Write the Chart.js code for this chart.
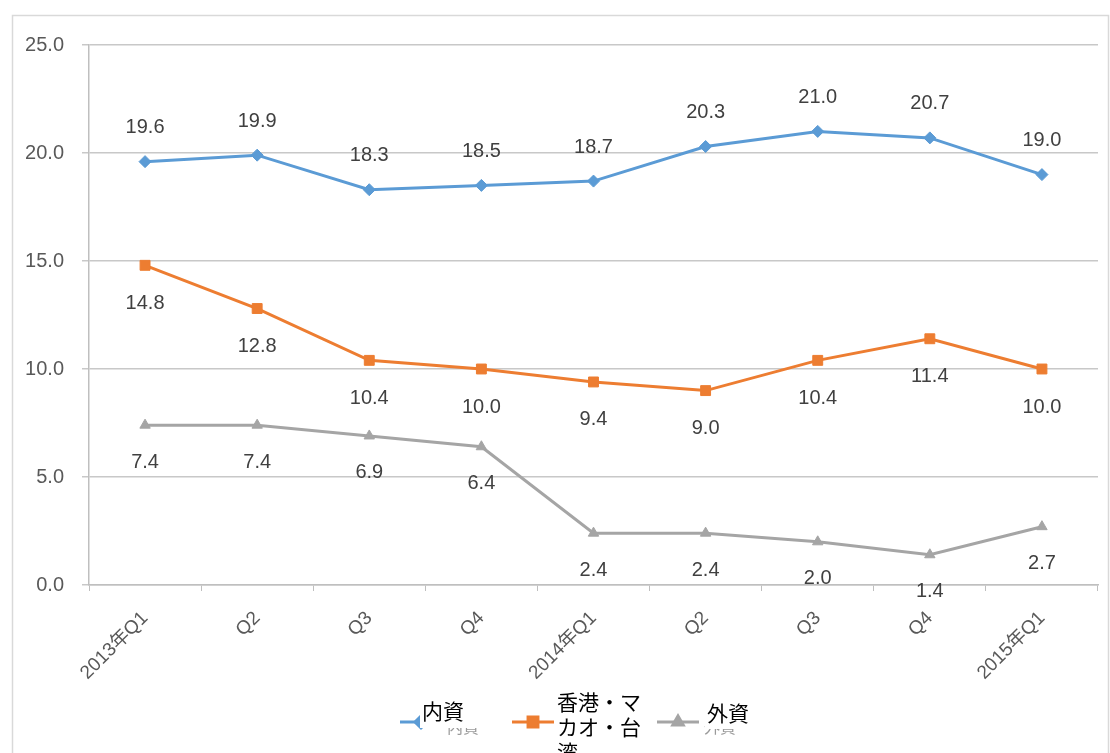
<!DOCTYPE html>
<html>
<head>
<meta charset="utf-8">
<script src="https://cdn.jsdelivr.net/npm/chart.js@4/dist/chart.umd.min.js"></script>
<style>
  html, body { margin: 0; padding: 0; background: #ffffff; }
  #wrap { width: 1110px; height: 753px; position: relative; }
</style>
</head>
<body>
<div id="wrap"><canvas id="c" width="1110" height="753"></canvas></div>
<script>
// Quarterly shares by capital type (%)
const categories = ['2013年Q1', 'Q2', 'Q3', 'Q4', '2014年Q1', 'Q2', 'Q3', 'Q4', '2015年Q1'];
const seriesNames = ['内資', '香港・マカオ・台湾', '外資'];
const domestic = [19.6, 19.9, 18.3, 18.5, 18.7, 20.3, 21.0, 20.7, 19.0];
const hkMacauTaiwan = [14.8, 12.8, 10.4, 10.0, 9.4, 9.0, 10.4, 11.4, 10.0];
const foreign = [7.4, 7.4, 6.9, 6.4, 2.4, 2.4, 2.0, 1.4, 2.7];
const yMin = 0, yMax = 25, yStep = 5;

const BLUE = '#5b9bd5', ORANGE = '#ed7d31', GRAY = '#a5a5a5';
const NUM_FONT = '"Liberation Sans", "Noto Sans CJK JP", sans-serif';
const CJK_FONT = '"Noto Sans CJK JP", sans-serif';

// outer frame of the chart object
const framePlugin = {
  id: 'frame',
  beforeDraw(chart) {
    const ctx = chart.ctx;
    ctx.save();
    ctx.fillStyle = '#ffffff';
    ctx.fillRect(0, 0, chart.width, chart.height);
    ctx.strokeStyle = '#d9d9d9';
    ctx.lineWidth = 1.5;
    ctx.strokeRect(12.5, 15.5, 1096, 760);
    ctx.restore();
  }
};

// value labels next to each point
const valueLabels = {
  id: 'valueLabels',
  afterDatasetsDraw(chart) {
    const ctx = chart.ctx;
    ctx.save();
    ctx.font = '20px ' + NUM_FONT;
    ctx.fillStyle = '#404040';
    ctx.textAlign = 'center';
    ctx.textBaseline = 'middle';
    chart.data.datasets.forEach((ds, di) => {
      const meta = chart.getDatasetMeta(di);
      const dy = ds.labelOffset;
      meta.data.forEach((pt, i) => {
        ctx.fillText(ds.data[i].toFixed(1), pt.x, pt.y + dy);
      });
    });
    ctx.restore();
  }
};

// legend row at the bottom: line + marker, with caption boxes
const bottomLegend = {
  id: 'bottomLegend',
  afterDraw(chart, args, opts) {
    const ctx = chart.ctx;
    ctx.save();
    chart.data.datasets.forEach((ds, di) => {
      const it = opts.items[di];
      // sample line
      ctx.strokeStyle = ds.borderColor;
      ctx.lineWidth = 3;
      ctx.beginPath();
      ctx.moveTo(it.x, opts.y);
      ctx.lineTo(it.x + 42, opts.y);
      ctx.stroke();
      Chart.helpers.drawPoint(ctx, {
        pointStyle: ds.pointStyle,
        radius: ds.pointRadius,
        borderWidth: 1
      }, it.x + 21, opts.y);
      ctx.fillStyle = ds.pointBackgroundColor;
      ctx.strokeStyle = ds.pointBorderColor;
      ctx.fill();
      // small grey caption underneath
      ctx.font = '16px ' + CJK_FONT;
      ctx.fillStyle = '#9a9a9a';
      ctx.textAlign = 'left';
      ctx.textBaseline = 'middle';
      ctx.fillText(ds.label.slice(0, 2), it.x + 47, opts.y + 5);
      // white caption box with black text
      ctx.fillStyle = '#ffffff';
      ctx.fillRect(it.box[0], it.box[1], it.box[2], it.box[3]);
      ctx.font = '21px ' + CJK_FONT;
      ctx.fillStyle = '#000000';
      it.lines.forEach((ln, li) => {
        ctx.fillText(ln, it.box[0] + 2, it.textY + li * 25);
      });
    });
    ctx.restore();
  }
};

const datasets = [
  { label: seriesNames[0], data: domestic, borderColor: BLUE, backgroundColor: BLUE,
    pointStyle: 'rectRot', pointRadius: 6, pointBackgroundColor: BLUE, pointBorderColor: BLUE,
    labelOffset: -34 },
  { label: seriesNames[1], data: hkMacauTaiwan, borderColor: ORANGE, backgroundColor: ORANGE,
    pointStyle: 'rect', pointRadius: 7, pointBackgroundColor: ORANGE, pointBorderColor: ORANGE,
    labelOffset: 38 },
  { label: seriesNames[2], data: foreign, borderColor: GRAY, backgroundColor: GRAY,
    pointStyle: 'triangle', pointRadius: 6, pointBackgroundColor: GRAY, pointBorderColor: GRAY,
    labelOffset: 37 }
];
datasets.forEach(d => { d.borderWidth = 3; d.tension = 0; d.pointBorderWidth = 1; });

new Chart(document.getElementById('c'), {
  type: 'line',
  data: { labels: categories, datasets },
  options: {
    responsive: false,
    animation: false,
    devicePixelRatio: 1,
    layout: { padding: { top: 45, left: 0, right: 12, bottom: 0 } },
    plugins: {
      legend: { display: false },
      tooltip: { enabled: false },
      bottomLegend: {
        y: 722,
        items: [
          { x: 400, box: [420, 693, 70, 35], textY: 711, lines: ['内資'] },
          { x: 512, box: [555, 686, 86, 70], textY: 702, lines: ['香港・マ', 'カオ・台', '湾'] },
          { x: 657, box: [705, 696, 52, 33], textY: 713, lines: ['外資'] }
        ]
      }
    },
    scales: {
      x: {
        offset: true,
        grid: { offset: true, drawOnChartArea: false, drawTicks: true, tickLength: 6, color: '#bfbfbf' },
        border: { display: true, color: '#bfbfbf', width: 1.5 },
        ticks: { minRotation: 45, maxRotation: 45, autoSkip: false, padding: 16,
                 color: '#595959', font: { size: 19, family: NUM_FONT } },
        afterFit(scale) { scale.height = 753 - 585; }
      },
      y: {
        min: yMin, max: yMax,
        grid: { color: '#c8c8c8', lineWidth: 1.5, tickLength: 7 },
        border: { display: true, color: '#bfbfbf', width: 1.5 },
        ticks: { stepSize: yStep, padding: 18, color: '#595959',
                 font: { size: 20, family: NUM_FONT },
                 callback: v => v.toFixed(1) },
        afterFit(scale) { scale.width = 89; }
      }
    }
  },
  plugins: [framePlugin, valueLabels, bottomLegend]
});
</script>
</body>
</html>
